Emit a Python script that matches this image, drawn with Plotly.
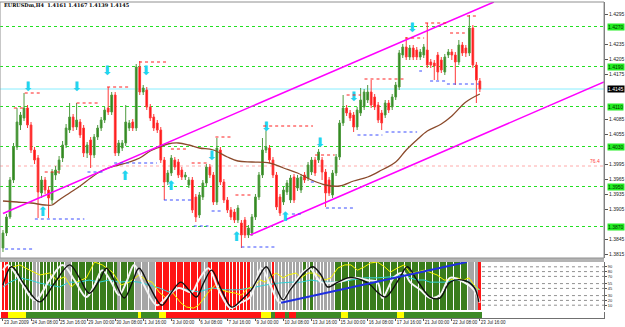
import plotly.graph_objects as go

# ---------------- data ----------------
bar_index = list(range(137))
opens = [1.3827,1.3857,1.3889,1.3963,1.4029,1.4073,1.4087,1.4107,1.4073,1.4023,
1.4007,1.3937,1.3963,1.3943,1.3923,1.3973,1.3983,1.4007,1.4033,1.4063,
1.4089,1.4069,1.4079,1.4067,1.4017,1.4043,1.4013,1.4049,1.4067,1.4083,
1.4107,1.4099,1.4133,1.4017,1.4027,1.4037,1.4067,1.4079,1.4067,1.4189,
1.4139,1.4143,1.4109,1.4089,1.4077,1.4063,1.4003,1.3959,1.3977,1.4003,
1.3999,1.3983,1.3969,1.3953,1.3963,1.3929,1.3893,1.3929,1.3957,1.3989,
1.3973,1.3919,1.4023,1.3959,1.3923,1.3903,1.3899,1.3883,1.3877,1.3883,
1.3853,1.3857,1.3889,1.3929,1.3973,1.4023,1.4027,1.4003,1.3973,1.3929,
1.3919,1.3939,1.3923,1.3969,1.3947,1.3943,1.3973,1.3967,1.3979,1.4003,
1.4003,1.4003,1.3979,1.3963,1.3933,1.3977,1.4009,1.4077,1.4107,1.4097,
1.4093,1.4069,1.4097,1.4109,1.4123,1.4139,1.4129,1.4113,1.4097,1.4093,
1.4117,1.4109,1.4129,1.4149,1.4213,1.4229,1.4209,1.4227,1.4223,1.4209,
1.4213,1.4223,1.4199,1.4197,1.4213,1.4203,1.4179,1.4213,1.4219,1.4213,
1.4199,1.4233,1.4227,1.4217,1.4267,1.4193,1.4161]
closes = [1.3857,1.3889,1.3963,1.4029,1.4079,1.4093,1.4107,1.4073,1.4023,1.4003,
1.3939,1.3963,1.3943,1.3927,1.3979,1.3983,1.4003,1.4033,1.4067,1.4089,
1.4069,1.4083,1.4053,1.4017,1.4033,1.4013,1.4049,1.4067,1.4083,1.4103,
1.4099,1.4133,1.4017,1.4037,1.4037,1.4079,1.4077,1.4067,1.4189,1.4139,
1.4147,1.4109,1.4087,1.4067,1.4063,1.4003,1.3959,1.3977,1.4007,1.3989,
1.3973,1.3969,1.3973,1.3963,1.3903,1.3889,1.3933,1.3957,1.3989,1.3973,
1.3919,1.4027,1.3959,1.3923,1.3903,1.3889,1.3883,1.3907,1.3853,1.3853,
1.3867,1.3889,1.3929,1.3973,1.4023,1.4029,1.4003,1.3973,1.3909,1.3897,
1.3943,1.3957,1.3967,1.3923,1.3967,1.3969,1.3963,1.3993,1.4003,1.3977,
1.4019,1.3979,1.3937,1.3937,1.3977,1.4009,1.4077,1.4107,1.4097,1.4087,
1.4069,1.4103,1.4123,1.4139,1.4139,1.4113,1.4109,1.4083,1.4077,1.4117,
1.4103,1.4129,1.4153,1.4217,1.4229,1.4209,1.4227,1.4209,1.4209,1.4219,
1.4229,1.4193,1.4193,1.4191,1.4179,1.4183,1.4209,1.4219,1.4213,1.4199,
1.4233,1.4217,1.4217,1.4267,1.4193,1.4163,1.4145]
highs = [1.3863,1.3895,1.3969,1.4037,1.4107,1.4099,1.4137,1.4113,1.4079,1.4029,
1.4013,1.3971,1.3969,1.3951,1.3985,1.3991,1.4011,1.4041,1.4075,1.4117,
1.4095,1.4117,1.4085,1.4073,1.4039,1.4049,1.4055,1.4073,1.4089,1.4109,
1.4149,1.4139,1.4139,1.4043,1.4043,1.4113,1.4083,1.4085,1.4195,1.4201,
1.4153,1.4149,1.4115,1.4095,1.4083,1.4069,1.4009,1.3983,1.4013,1.4009,
1.4005,1.3989,1.3979,1.3969,1.3969,1.3935,1.3939,1.3963,1.3995,1.3995,
1.3979,1.4047,1.4029,1.3965,1.3929,1.3909,1.3905,1.3913,1.3883,1.3889,
1.3873,1.3895,1.3935,1.3979,1.4047,1.4069,1.4033,1.4009,1.3979,1.3935,
1.3949,1.3963,1.3973,1.3975,1.3973,1.3975,1.3979,1.3999,1.4009,1.4009,
1.4025,1.4009,1.3985,1.3969,1.3983,1.4015,1.4083,1.4133,1.4113,1.4103,
1.4099,1.4109,1.4147,1.4145,1.4153,1.4163,1.4135,1.4119,1.4103,1.4123,
1.4123,1.4135,1.4159,1.4223,1.4235,1.4249,1.4233,1.4233,1.4229,1.4225,
1.4235,1.4277,1.4205,1.4203,1.4219,1.4209,1.4215,1.4225,1.4225,1.4219,
1.4243,1.4239,1.4233,1.4293,1.4273,1.4199,1.4167]
lows = [1.3819,1.3851,1.3885,1.3957,1.4023,1.4063,1.4081,1.4067,1.4017,1.3995,
1.3887,1.3927,1.3935,1.3887,1.3915,1.3963,1.3975,1.3999,1.4027,1.4057,
1.4061,1.4063,1.4047,1.4009,1.4007,1.3987,1.4007,1.4043,1.4061,1.4077,
1.4093,1.4093,1.4011,1.4011,1.4021,1.4031,1.4061,1.4061,1.4061,1.4133,
1.4133,1.4103,1.4081,1.4061,1.4057,1.3997,1.3923,1.3953,1.3971,1.3983,
1.3967,1.3963,1.3963,1.3947,1.3897,1.3879,1.3887,1.3923,1.3951,1.3967,
1.3913,1.3913,1.3953,1.3917,1.3897,1.3883,1.3877,1.3877,1.3827,1.3847,
1.3847,1.3851,1.3883,1.3923,1.3967,1.4017,1.3997,1.3967,1.3903,1.3891,
1.3913,1.3933,1.3917,1.3917,1.3941,1.3937,1.3957,1.3961,1.3973,1.3971,
1.3997,1.3963,1.3909,1.3931,1.3927,1.3971,1.4003,1.4071,1.4091,1.4081,
1.4059,1.4063,1.4091,1.4103,1.4117,1.4107,1.4103,1.4077,1.4063,1.4087,
1.4097,1.4103,1.4123,1.4143,1.4207,1.4203,1.4203,1.4203,1.4203,1.4203,
1.4207,1.4187,1.4187,1.4163,1.4163,1.4177,1.4173,1.4207,1.4203,1.4153,
1.4193,1.4211,1.4209,1.4211,1.4187,1.4117,1.4139]

ma_x = [0,4,8,12,14,16,19,22,25,28,30,33,36,39,42,44,47,50,53,56,60,64,67,71,76,80,84,88,92,96,100,104,108,112,115,118,121,125,128,132,136]
ma_y = [1.3921,1.3919,1.3917,1.3913,1.3913,1.3923,1.3937,1.3951,1.3967,1.3981,1.3987,1.3993,1.3999,1.4007,1.4021,1.4027,1.4035,1.4037,1.4033,1.4027,1.4023,1.4009,1.4001,1.3999,1.3997,1.3987,1.3977,1.3963,1.3953,1.3951,1.3961,1.3969,1.3983,1.3999,1.4023,1.4043,1.4061,1.4075,1.4091,1.4119,1.4135]

upper_channel_x = [0, 140]
upper_channel_y = [1.3896, 1.4319]
lower_channel_x = [70.5, 171.4]
lower_channel_y = [1.3853, 1.4159]

green_levels = [1.4270, 1.4190, 1.4110, 1.4030, 1.3950, 1.3870]
green_labels = ["1.4270", "1.4190", "1.4110", "1.4030", "1.3950", "1.3870"]
current_price = 1.4145
current_label = "1.4145"
fib_level = 1.3991
fib_label = "76.4"

price_ticks = [1.4295, 1.4235, 1.4205, 1.4175, 1.4085, 1.4055, 1.3995, 1.3965, 1.3935, 1.3905, 1.3845, 1.3815]
price_tick_text = ["1.4295", "1.4235", "1.4205", "1.4175", "1.4085", "1.4055", "1.3995", "1.3965", "1.3935", "1.3905", "1.3845", "1.3815"]

red_segments = [(1.4107,3.1,6.2),(1.4137,6.2,11.3),(1.3979,11.9,16.7),(1.4117,21.0,27.5),(1.4149,29.7,36.0),
(1.4199,38.8,47.3),(1.4025,47.9,53.0),(1.3997,53.8,58.6),(1.4049,60.6,65.7),(1.3933,66.3,70.8),
(1.4071,74.2,88.4),(1.4013,89.0,94.6),(1.4133,98.0,102.0),(1.4165,103.1,114.4),(1.4247,114.7,120.1),
(1.4277,120.4,127.2),(1.4257,127.5,131.7),(1.4291,132.3,135.7)]
blue_segments = [(1.3825,0.6,8.5),(1.3885,9.1,23.2),(1.3979,24.1,28.9),(1.3997,31.7,43.9),(1.3923,45.9,53.8),
(1.3871,54.4,58.6),(1.3901,59.5,62.9),(1.3829,68.0,77.6),(1.3895,82.4,85.0),(1.3959,87.8,89.2),
(1.3907,92.1,100.3),(1.4053,101.1,108.2),(1.4059,109.1,118.1),(1.4181,118.7,119.5),(1.4161,121.8,126.1),
(1.4155,126.6,135.7)]

down_x = [7.1, 21.0, 29.7, 40.8, 59.5, 75.1, 90.4, 100.0, 116.7]
down_y = [1.4147, 1.4147, 1.4179, 1.4179, 1.4009, 1.4067, 1.4035, 1.4127, 1.4265]
up_x = [11.3, 34.8, 47.9, 66.6, 80.5]
up_y = [1.3897, 1.3969, 1.3949, 1.3847, 1.3887]

# sub window
stripe_runs = [("r",2),("g",7),("s",2),("g",7),("s",2),("g",13),("s",1),("g",4),("s",6),("r",13),
("s",2),("r",12),("s",6),("r",1),("s",8),("g",1),("s",1),("g",1),("s",6),("g",38),("s",3),("r",1)]
strip_runs = [("r",2),("y",5),("g",32),("y",1),("g",5),("y",2),("r",27),("y",3),("g",1),("r",3),
("g",1),("r",2),("g",13),("y",2),("g",14),("y",2),("g",22)]

black_x = [0,2.5,6.2,10.5,14.7,19,21.8,24.6,27.5,29.5,31.7,34.6,36.8,38.8,41.6,45.3,47.9,50.7,53,55.2,57.2,59.5,62.3,65.2,68,70.8,72.8,75.1,77.6,79.9,81.9,84.1,86.4,88.4,90.7,92.6,95.5,98.3,100.3,102.5,104.8,106.8,109.1,111,113.3,115.3,118.1,121.8,124.6,127.5,131.4,134.3,135.7]
black_v = [52,90,52,17,56,94,67,35,62,87,62,25,56,87,52,10,35,58,42,27,56,83,42,6,21,42,67,90,52,21,42,62,81,90,73,48,58,67,67,62,52,37,27,42,69,90,62,27,25,58,62,48,17]
white_x = [0,1.4,4.8,9.1,13.3,17,20.4,23.8,26.1,28.3,30.9,33.1,35.4,37.4,40.2,43.9,47.3,50.1,53.8,55.8,58.6,61.5,64.9,67.7,70.5,73.7,76.2,79,81.3,83.3,85.6,87.5,90.7,95.5,100.3,104,106.8,108.2,111.6,114.4,116.1,119,121.8,124.6,127.5,131.4,134.3,136]
white_v = [83,94,62,21,62,94,62,27,52,83,58,31,62,94,52,10,31,46,37,62,87,42,4,15,27,87,52,15,37,58,79,87,58,58,67,62,58,25,69,77,58,42,25,31,67,58,42,15]
yellow_x = [2,4.8,7.6,10.5,13.3,15.3,17.6,19.5,21,23.8,26.1,28.3,31.2,33.7,36,38.8,40.8,42.5,44.5,46.5,48.2,50.7,52.4,54.4,55.8,58.6,60.6,62.3,64.3,66.3,68,70,71.4,73.4,74.8,76.2,77.9,79.9,81.3,83.6,85,87,89,91.8,93.5,95.5,97.5,99.2,101.1,103.1,104.8,106.8,108.8,110.5,112.5,114.4,116.1,118.1,120.1,121.8,123.8,125.8,127.5,129.5,131.4,132.9,134.3,135.7]
yellow_v = [87.5,94,83,73,77,62.5,69,48,58,67,100,94,79,52,58,73,62.5,58,37.5,25,37.5,15,6,4,10,37.5,52,42,37.5,35,31,46,48,62.5,58,69,77,67,73,77,67,77,77,62.5,67,87.5,94,94,83,90,98,100,90,79,87.5,94,77,79,83,79,73,62.5,62.5,67,62.5,67,52,42]
cyan_x = [0,2,4.8,7.6,10.5,13.3,16.1,19,21.8,24.6,27.5,30.3,33.1,36,38.8,41.6,44.5,47.3,50.1,53,55.8,59.5,63.5,67.1,70.8,74.8,78.5,82.2,85,87.8,91.8,95.5,99.2,103.1,106.8,110.5,114.4,116.1,118.1,120.1,121.8,123.8,126.6,128.6,131.4,133.1,135.1,136]
cyan_v = [48,58,67,62.5,56,52,48,58,58,62.5,58,62.5,58,60,58,52,46,37.5,46,42,37.5,46,42,42,46,52,56,58,58,62.5,58,58,62.5,67,67,69,73,67,62.5,62.5,58,58,58,62.5,62.5,58,46,42]
trend_x = [79.3, 132.3]
trend_v = [15, 100]
osc_levels = [90, 80, 70, 55, 45, 30, 20, 10]
osc_tick_text = ["90", "80", "70", "55", "45", "30", "20", "10"]

time_ticks = [0,8,16,24,32,40,48,56,64,72,80,88,96,104,112,120,128,136]
time_labels = ["23 Jun 2009","24 Jun 08:00","25 Jun 16:00","29 Jun 00:00","30 Jun 08:00","1 Jul 16:00",
"3 Jul 00:00","6 Jul 08:00","7 Jul 16:00","9 Jul 00:00","10 Jul 08:00","13 Jul 16:00","15 Jul 00:00",
"16 Jul 08:00","17 Jul 16:00","21 Jul 00:00","22 Jul 08:00","23 Jul 16:00"]

title_text = "EURUSDm,H4  1.4161 1.4167 1.4139 1.4145"

# ---------------- figure ----------------
W, H = 625, 327
mt, mb, mr = 2, 9, 17
ph = H - mt - mb
def frac(py):
    return (H - mb - py) / ph

XR = [-0.85, 171.4]
FONT = "Liberation Sans"

fig = go.Figure()

fig.add_trace(go.Candlestick(
    x=bar_index, open=opens, high=highs, low=lows, close=closes,
    increasing=dict(line=dict(color="#4f9a3f", width=1), fillcolor="#2a8418"),
    decreasing=dict(line=dict(color="#ff3a3a", width=1), fillcolor="#ff0a0a"),
    whiskerwidth=0, xaxis="x", yaxis="y", showlegend=False))

fig.add_trace(go.Scatter(x=ma_x, y=ma_y, mode="lines", line=dict(color="#8b4a2b", width=1.3, shape="spline"),
                         xaxis="x", yaxis="y", showlegend=False))
fig.add_trace(go.Scatter(x=upper_channel_x, y=upper_channel_y, mode="lines", line=dict(color="#ff00ff", width=1.5),
                         xaxis="x", yaxis="y", showlegend=False))
fig.add_trace(go.Scatter(x=lower_channel_x, y=lower_channel_y, mode="lines", line=dict(color="#ff00ff", width=1.5),
                         xaxis="x", yaxis="y", showlegend=False))
fig.add_trace(go.Scatter(x=down_x, y=down_y, mode="text", text=["\u2b07"] * len(down_x),
                         textfont=dict(family="DejaVu Sans", size=13, color="#22d4ee"),
                         textposition="middle center", xaxis="x", yaxis="y", showlegend=False))
fig.add_trace(go.Scatter(x=up_x, y=up_y, mode="text", text=["\u2b06"] * len(up_x),
                         textfont=dict(family="DejaVu Sans", size=13, color="#22d4ee"),
                         textposition="middle center", xaxis="x", yaxis="y", showlegend=False))

cmap_stripe = {"r": "#ff1414", "g": "#3a7d1c", "s": "#a6a6a6", "y": "#ffff00"}
cmap_strip = {"r": "#ff1414", "g": "#3d8a27", "s": "#a6a6a6", "y": "#ffff00"}

def expand(runs):
    out = []
    for c, n in runs:
        out.extend([c] * n)
    return out

stripe_codes = expand(stripe_runs)
strip_codes = expand(strip_runs)

fig.add_trace(go.Bar(x=list(range(len(stripe_codes))), y=[100] * len(stripe_codes), width=0.8,
                     marker=dict(color=[cmap_stripe[c] for c in stripe_codes], line=dict(width=0)),
                     xaxis="x2", yaxis="y2", showlegend=False))
fig.add_trace(go.Scatter(x=cyan_x, y=cyan_v, mode="lines", line=dict(color="#2fd4d8", width=1),
                         xaxis="x2", yaxis="y2", showlegend=False))
fig.add_trace(go.Scatter(x=yellow_x, y=yellow_v, mode="lines", line=dict(color="#f5f500", width=1),
                         xaxis="x2", yaxis="y2", showlegend=False))
fig.add_trace(go.Scatter(x=white_x, y=white_v, mode="lines", line=dict(color="#f4f4f4", width=2, shape="spline"),
                         xaxis="x2", yaxis="y2", showlegend=False))
fig.add_trace(go.Scatter(x=black_x, y=black_v, mode="lines", line=dict(color="#101010", width=1.4, shape="spline"),
                         xaxis="x2", yaxis="y2", showlegend=False))
fig.add_trace(go.Scatter(x=trend_x, y=trend_v, mode="lines", line=dict(color="#1f2fe0", width=2),
                         xaxis="x2", yaxis="y2", showlegend=False))

fig.add_trace(go.Bar(x=list(range(len(strip_codes))), y=[1] * len(strip_codes), width=1.0,
                     marker=dict(color=[cmap_strip[c] for c in strip_codes], line=dict(width=0)),
                     xaxis="x3", yaxis="y3", showlegend=False))

shapes = []
for lv in green_levels:
    shapes.append(dict(type="line", xref="paper", x0=0, x1=1, yref="y", y0=lv, y1=lv,
                       line=dict(color="#22e022", width=1, dash="dot"), layer="below"))
shapes.append(dict(type="line", xref="paper", x0=0, x1=1, yref="y", y0=current_price, y1=current_price,
                   line=dict(color="#88eeff", width=1), layer="below"))
shapes.append(dict(type="line", xref="paper", x0=0, x1=1, yref="y", y0=fib_level, y1=fib_level,
                   line=dict(color="#ffaaaa", width=1, dash="dot"), layer="below"))
for p, a, b in red_segments:
    shapes.append(dict(type="line", xref="x", x0=a, x1=b, yref="y", y0=p, y1=p,
                       line=dict(color="#ff2020", width=1, dash="dot")))
for p, a, b in blue_segments:
    shapes.append(dict(type="line", xref="x", x0=a, x1=b, yref="y", y0=p, y1=p,
                       line=dict(color="#3a4cff", width=1, dash="dot")))
for lv in osc_levels:
    shapes.append(dict(type="line", xref="x2", x0=136.6, x1=XR[1], yref="y2", y0=lv, y1=lv,
                       line=dict(color="#909090", width=1, dash="dot")))
shapes.append(dict(type="rect", xref="paper", x0=0, x1=1, yref="paper", y0=frac(262), y1=frac(258),
                   fillcolor="#b4b4b4", line=dict(width=0)))
shapes.append(dict(type="rect", xref="paper", x0=0, x1=1, yref="paper", y0=frac(258), y1=1,
                   fillcolor="rgba(0,0,0,0)", line=dict(color="#909090", width=1)))

annotations = [dict(text="<b>" + title_text + "</b>", xref="paper", yref="paper", x=0.004, y=frac(5),
                    xanchor="left", yanchor="middle", showarrow=False,
                    font=dict(family="DejaVu Serif", size=5, color="#000000"))]
for lv, lb in zip(green_levels, green_labels):
    annotations.append(dict(text=lb, xref="paper", yref="y", x=1, y=lv, xanchor="left", yanchor="middle",
                            xshift=3, showarrow=False, bgcolor="#22ee22", borderpad=0,
                            font=dict(family=FONT, size=5, color="#003300")))
annotations.append(dict(text=current_label, xref="paper", yref="y", x=1, y=current_price, xanchor="left",
                        yanchor="middle", xshift=3, showarrow=False, bgcolor="#000000", borderpad=0,
                        font=dict(family=FONT, size=5, color="#ffffff")))
annotations.append(dict(text=fib_label, xref="paper", yref="y", x=1, y=fib_level, xanchor="right",
                        yanchor="bottom", xshift=-2, showarrow=False,
                        font=dict(family=FONT, size=5, color="#ff4040")))

axis_common = dict(showgrid=False, zeroline=False)
fig.update_layout(
    width=W, height=H,
    margin=dict(l=0, r=mr, t=mt, b=mb),
    paper_bgcolor="#ffffff", plot_bgcolor="#ffffff",
    barmode="overlay", bargap=0,
    showlegend=False,
    xaxis=dict(domain=[0, 1], range=XR, anchor="y", showticklabels=False, ticks="",
               rangeslider=dict(visible=False), **axis_common),
    yaxis=dict(domain=[frac(258), 1], range=[1.3807, 1.4319], side="right", anchor="x",
               tickvals=price_ticks, ticktext=price_tick_text, ticks="outside", ticklen=3,
               tickcolor="#555555", showline=True, linecolor="#707070", linewidth=1,
               tickfont=dict(family=FONT, size=5, color="#222222"), **axis_common),
    xaxis2=dict(domain=[0, 1], range=XR, anchor="y2", showticklabels=False, ticks="", **axis_common),
    yaxis2=dict(domain=[frac(310), frac(262)], range=[0, 100], side="right", anchor="x2",
                tickvals=osc_levels, ticktext=osc_tick_text, ticks="outside", ticklen=2,
                tickcolor="#555555", showline=True, linecolor="#707070", linewidth=1,
                tickfont=dict(family=FONT, size=4, color="#222222"), **axis_common),
    xaxis3=dict(domain=[0, 1], range=XR, anchor="y3", tickvals=time_ticks, ticktext=time_labels,
                tickangle=0, ticks="outside", ticklen=2, tickcolor="#555555",
                ticklabelposition="outside right",
                showline=True, linecolor="#707070", linewidth=1,
                tickfont=dict(family=FONT, size=4.5, color="#222222"), **axis_common),
    yaxis3=dict(domain=[0, frac(312)], range=[0, 1], side="right", anchor="x3", showticklabels=False,
                ticks="", showline=True, linecolor="#707070", **axis_common),
    shapes=shapes, annotations=annotations,
)

fig.write_html("out.html")
